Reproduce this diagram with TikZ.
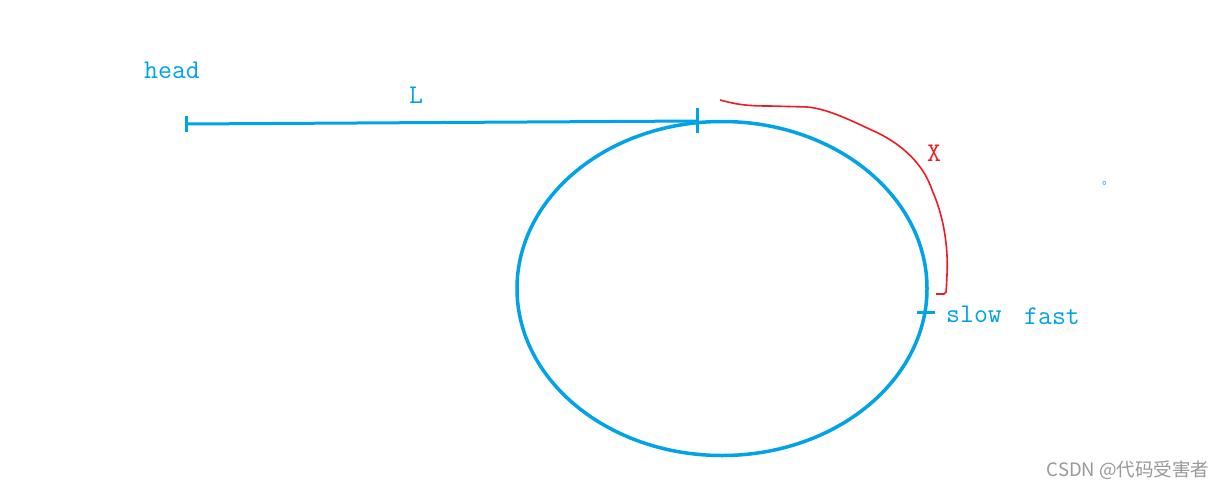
\documentclass[tikz,border=0pt]{standalone}
\usepackage{fontspec}
\newfontfamily\cjk{Noto Sans CJK SC}
\definecolor{pblue}{HTML}{00A2E8}
\definecolor{pred}{HTML}{ED1C24}
\begin{document}
\begin{tikzpicture}[x=1pt,y=-1pt,
  lbl/.style={font=\ttfamily\fontsize{27}{27}\selectfont, text=pblue, inner sep=0pt},
  bluel/.style={draw=pblue, line width=3pt},
  tick/.style={draw=pblue, line width=3pt}]
\useasboundingbox (0,0) rectangle (1230,490);
\fill[white] (0,0) rectangle (1230,490);
% ring
\draw[draw=pblue, line width=3.5pt] (722,288.5) ellipse [x radius=205, y radius=167];
% tail
\coordinate (head) at (186,124);
\coordinate (entry) at (697,121);
\draw[bluel] (head) -- (entry);
\draw[tick] (186,116) -- (186,132);
\draw[tick] (697,108) -- (697,133);
\coordinate (meet) at (926,312);
\draw[tick] (917,312) -- (935,312);
% red arc X
\draw[pred, line width=1.6pt, rounded corners=2pt]
  (720,100) .. controls (735,104) and (745,106) .. (770,106)
  -- (808,107) .. controls (830,110) and (850,120) .. (880,134)
  .. controls (910,150) and (925,170) .. (932,190)
  .. controls (945,220) and (948,250) .. (947,275)
  -- (946,294) -- (936,294);
% labels
\node[lbl] (lhead) at (172,70) {head};
\node[lbl] (lL) at (416,95) {L};
\node[lbl, text=pred] (lX) at (934,153) {X};
\node[lbl] (lslow) at (974,314) {slow};
\node[lbl] (lfast) at (1052,316) {fast};
\node[text=pblue, inner sep=0pt, font=\cjk\fontsize{12}{12}\selectfont] (dot) at (1108,183) {。};
\node[text=gray!80, inner sep=0pt, font=\cjk\fontsize{18.5}{18.5}\selectfont] (wm) at (1128,470) {CSDN @代码受害者};
\end{tikzpicture}
\end{document}
